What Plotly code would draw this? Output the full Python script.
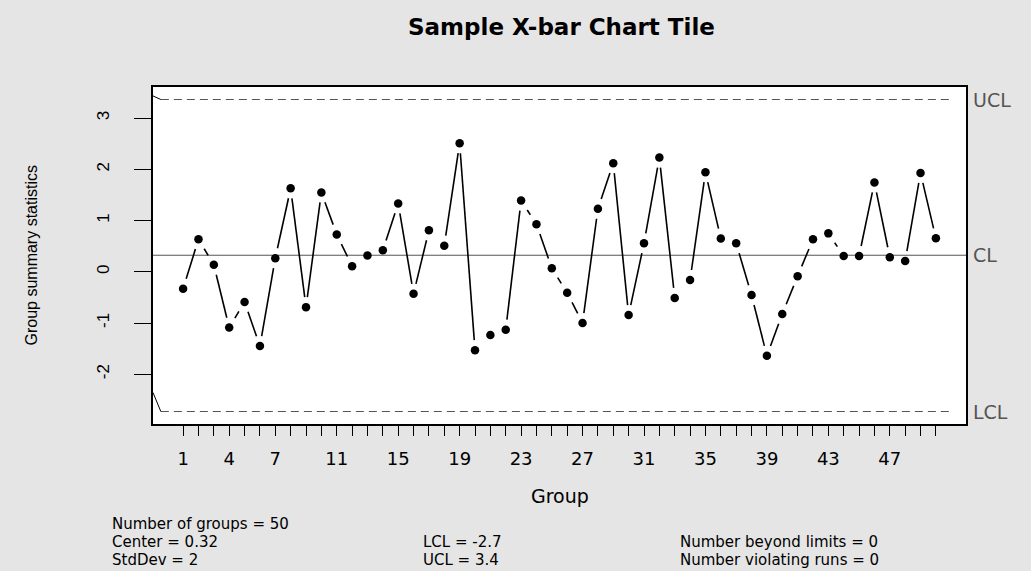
import math
import plotly.graph_objects as go

# ---------------- data ----------------
groups = list(range(1, 51))
group_means = [-0.33, 0.635, 0.136, -1.09, -0.59, -1.45, 0.265, 1.63, -0.69, 1.55,
               0.73, 0.11, 0.32, 0.42, 1.335, -0.43, 0.81, 0.51, 2.51, -1.53,
               -1.235, -1.13, 1.39, 0.93, 0.07, -0.41, -1.0, 1.23, 2.12, -0.845,
               0.557, 2.23, -0.51, -0.16, 1.945, 0.65, 0.557, -0.455, -1.64, -0.825,
               -0.085, 0.635, 0.75, 0.31, 0.31, 1.745, 0.285, 0.21, 1.93, 0.655]
center_line = 0.323
lower_limit = -2.728
upper_limit = 3.364
limit_span = [-0.45, 51.1]
limit_lead_in = [0.07, 0.37]          # rise of the short slanted lead-ins (UCL, LCL)
x_tick_labels = [1, 4, 7, 11, 15, 19, 23, 27, 31, 35, 39, 43, 47]
y_tick_values = [-2, -1, 0, 1, 2, 3]
limit_labels = ["UCL", "CL", "LCL"]
stats_col1 = ["Number of groups = 50", "Center = 0.32", "StdDev = 2"]
stats_col2 = ["LCL = -2.7", "UCL = 3.4"]
stats_col3 = ["Number beyond limits = 0", "Number violating runs = 0"]

# ---------------- geometry ----------------
W_FIG, H_FIG = 1031, 571
L, R, T, B = 153, 65, 87, 147
PW, PH = W_FIG - L - R, H_FIG - T - B
X_RANGE = [-0.96, 51.96]
Y_RANGE = [-2.972, 3.608]
STRETCH = 1.75
GAP = 10.0

def px(x, y):
    return ((x - X_RANGE[0]) / (X_RANGE[1] - X_RANGE[0]) * PW / STRETCH,
            (y - Y_RANGE[0]) / (Y_RANGE[1] - Y_RANGE[0]) * PH)

seg_x, seg_y = [], []
for i in range(len(groups) - 1):
    x1, y1, x2, y2 = groups[i], group_means[i], groups[i + 1], group_means[i + 1]
    a, b = px(x1, y1), px(x2, y2)
    d = math.hypot(b[0] - a[0], b[1] - a[1])
    if d > 2 * GAP + 0.5:
        t = GAP / d
        seg_x += [x1 + t * (x2 - x1), x2 - t * (x2 - x1), None]
        seg_y += [y1 + t * (y2 - y1), y2 - t * (y2 - y1), None]

def paper_y(py):
    return (H_FIG - B - py) / PH

def paper_x(pxx):
    return (pxx - L) / PW

FONT = "DejaVu Sans, Liberation Sans, Arial, sans-serif"
GRAY = "#555555"

fig = go.Figure()

# center line
fig.add_trace(go.Scatter(x=X_RANGE, y=[center_line] * 2, mode="lines",
                         line=dict(color=GRAY, width=1), hoverinfo="skip", showlegend=False))
# control limits
for lim, lead in zip([upper_limit, lower_limit], limit_lead_in):
    fig.add_trace(go.Scatter(x=limit_span, y=[lim, lim], mode="lines",
                             line=dict(color=GRAY, width=1, dash="8px,5px"),
                             hoverinfo="skip", showlegend=False))
    fig.add_trace(go.Scatter(x=[X_RANGE[0], limit_span[0]], y=[lim + lead, lim], mode="lines",
                             line=dict(color="black", width=1),
                             hoverinfo="skip", showlegend=False))
# connecting segments
fig.add_trace(go.Scatter(x=seg_x, y=seg_y, mode="lines", line=dict(color="black", width=1.6),
                         hoverinfo="skip", showlegend=False, connectgaps=False))
# points
fig.add_trace(go.Scatter(x=groups, y=group_means, mode="markers",
                         marker=dict(color="black", size=8.5, line=dict(width=0)),
                         showlegend=False))

annotations = []
for lab, val in zip(limit_labels, [upper_limit, center_line, lower_limit]):
    annotations.append(dict(text=lab, x=1, xref="paper", xshift=5, xanchor="left",
                            y=val, yref="y", yanchor="middle", showarrow=False,
                            font=dict(family=FONT, size=19, color=GRAY)))
# title
annotations.append(dict(text="<b>Sample X-bar Chart Tile</b>", x=paper_x(561), xref="paper",
                        y=paper_y(27), yref="paper", xanchor="center", yanchor="middle",
                        showarrow=False, font=dict(family=FONT, size=23, color="black")))
# axis titles
annotations.append(dict(text="Group", x=paper_x(560), xref="paper", y=paper_y(496), yref="paper",
                        xanchor="center", yanchor="middle", showarrow=False,
                        font=dict(family=FONT, size=19, color="black")))
annotations.append(dict(text="Group summary statistics", x=paper_x(31), xref="paper",
                        y=0.5, yref="paper", xanchor="center", yanchor="middle", textangle=-90,
                        showarrow=False,
                        font=dict(family="Liberation Sans, Arial, sans-serif", size=16, color="black")))
# stats block
row_y = [524, 542, 560]
STATS_FONT = dict(family=FONT, size=15, color="black")
for i, t in enumerate(stats_col1):
    annotations.append(dict(text=t, x=paper_x(110), xref="paper", y=paper_y(row_y[i]), yref="paper",
                            xanchor="left", yanchor="middle", showarrow=False, font=STATS_FONT))
for i, t in enumerate(stats_col2):
    annotations.append(dict(text=t, x=paper_x(421), xref="paper", y=paper_y(row_y[i + 1]), yref="paper",
                            xanchor="left", yanchor="middle", showarrow=False, font=STATS_FONT))
for i, t in enumerate(stats_col3):
    annotations.append(dict(text=t, x=paper_x(678), xref="paper", y=paper_y(row_y[i + 1]), yref="paper",
                            xanchor="left", yanchor="middle", showarrow=False, font=STATS_FONT))

fig.update_layout(
    width=W_FIG, height=H_FIG,
    margin=dict(l=L, r=R, t=T, b=B, pad=0),
    paper_bgcolor="#e5e5e5", plot_bgcolor="white",
    showlegend=False,
    annotations=annotations,
    xaxis=dict(range=X_RANGE, showgrid=False, zeroline=False,
               tickmode="array", tickvals=groups,
               ticktext=[str(g) if g in x_tick_labels else "" for g in groups],
               ticks="outside", ticklen=10, tickwidth=1.2, tickcolor="black",
               ticklabelstandoff=8,
               tickfont=dict(family=FONT, size=18, color="black"),
               showline=True, linecolor="black", linewidth=1.6, mirror=True),
    yaxis=dict(range=Y_RANGE, showgrid=False, zeroline=False,
               tickmode="array", tickvals=y_tick_values,
               ticktext=[str(v) for v in y_tick_values],
               ticks="outside", ticklen=17, tickwidth=1.2, tickcolor="black",
               tickangle=-90, ticklabelstandoff=18,
               tickfont=dict(family="Liberation Sans, Arial, sans-serif", size=17, color="black"),
               showline=True, linecolor="black", linewidth=1.6, mirror=True),
)

fig.write_html("out.html", config={"displayModeBar": False},
               post_script="document.body.style.margin='0';document.body.style.background='#e5e5e5';")
